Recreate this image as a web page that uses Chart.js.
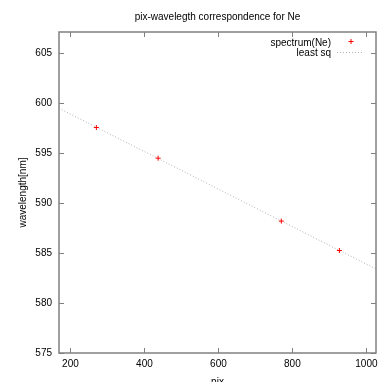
<!DOCTYPE html>
<html>
<head>
<meta charset="utf-8">
<script src="https://cdn.jsdelivr.net/npm/chart.js@4/dist/chart.umd.min.js"></script>
<style>
  html, body { margin: 0; padding: 0; background: #fff; }
  #wrap { width: 381px; height: 382px; }
</style>
</head>
<body>
<div id="wrap"><canvas id="calib"></canvas></div>
<script>
// measured line positions (pixel) and known Ne wavelengths (nm)
const pixList = [270, 437, 770, 927];
const waveList = [597.55, 594.48, 588.19, 585.25];

// least squares line, ends at the plot edges
const fitPix = [169, 1026];
const fitWave = [599.47, 583.40];

const xTicks = [200, 400, 600, 800, 1000];
const yTicks = [575, 580, 585, 590, 595, 600, 605];

const FONT = 'Liberation Sans, Arial, Helvetica, sans-serif';

// gnuplot style: gray frame with inward ticks on all four sides + legend top right
const frameTicks = {
    id: 'frameTicks',
    afterDatasetsDraw(chart) {
        const ctx = chart.ctx;
        const a = chart.chartArea;
        const xs = chart.scales.x, ys = chart.scales.y;
        ctx.save();
        ctx.strokeStyle = '#808080';
        ctx.lineWidth = 1.5;
        ctx.strokeRect(a.left, a.top, a.right - a.left, a.bottom - a.top);
        ctx.beginPath();
        xs.ticks.forEach(t => {
            const px = Math.round(xs.getPixelForValue(t.value)) + 0.5;
            ctx.moveTo(px, a.bottom); ctx.lineTo(px, a.bottom - 5);
            ctx.moveTo(px, a.top); ctx.lineTo(px, a.top + 5);
        });
        ys.ticks.forEach(t => {
            const py = Math.round(ys.getPixelForValue(t.value)) + 0.5;
            ctx.moveTo(a.left, py); ctx.lineTo(a.left + 5, py);
            ctx.moveTo(a.right, py); ctx.lineTo(a.right - 5, py);
        });
        ctx.lineWidth = 1;
        ctx.stroke();

        // legend
        const ds = chart.data.datasets;
        ctx.font = '10px ' + FONT;
        ctx.fillStyle = '#000';
        ctx.textAlign = 'right';
        ctx.textBaseline = 'middle';
        const tx = a.right - 45;
        ctx.fillText(ds[0].label, tx, a.top + 11);
        ctx.fillText(ds[1].label, tx, a.top + 21);
        ctx.strokeStyle = ds[0].borderColor;
        ctx.beginPath();
        ctx.moveTo(a.right - 27.5, a.top + 9.5); ctx.lineTo(a.right - 22.5, a.top + 9.5);
        ctx.moveTo(a.right - 25, a.top + 7); ctx.lineTo(a.right - 25, a.top + 12);
        ctx.stroke();
        ctx.strokeStyle = ds[1].borderColor;
        ctx.setLineDash([1, 2]);
        ctx.beginPath();
        ctx.moveTo(a.right - 39, a.top + 20.5); ctx.lineTo(a.right - 14, a.top + 20.5);
        ctx.stroke();
        ctx.restore();
    }
};

new Chart(document.getElementById('calib'), {
    type: 'scatter',
    data: {
        datasets: [{
            label: 'spectrum(Ne)',
            data: pixList.map((p, i) => ({x: p, y: waveList[i]})),
            pointStyle: 'cross',
            pointRadius: 2.5,
            pointBorderWidth: 1,
            borderColor: '#ff0000',
            backgroundColor: '#ff0000',
            order: 0
        }, {
            label: 'least sq',
            data: fitPix.map((p, i) => ({x: p, y: fitWave[i]})),
            showLine: true,
            pointRadius: 0,
            borderColor: '#aab0bb',
            borderWidth: 1,
            borderDash: [1, 2],
            order: 1
        }]
    },
    options: {
        responsive: true,
        maintainAspectRatio: false,
        animation: false,
        events: [],
        layout: { padding: { top: 0, right: 2, bottom: 0, left: 0 } },
        plugins: {
            legend: { display: false },
            tooltip: { enabled: false },
            title: {
                display: true,
                text: 'pix-wavelegth correspondence for Ne',
                fullSize: false,
                color: '#000',
                font: { family: FONT, size: 10, weight: 'normal' },
                padding: { top: 11, bottom: 9 }
            }
        },
        scales: {
            x: {
                type: 'linear',
                min: fitPix[0],
                max: fitPix[1],
                grid: { display: false, drawTicks: false },
                border: { display: false },
                afterBuildTicks: s => { s.ticks = xTicks.map(v => ({value: v})); },
                afterFit: s => { s.height = 29; s.paddingLeft = 0; s.paddingRight = 0; },
                ticks: {
                    autoSkip: false, maxRotation: 0, padding: 5,
                    callback: v => String(v),
                    color: '#000', font: { family: FONT, size: 10 }
                },
                title: {
                    display: true, text: 'pix', color: '#000',
                    font: { family: FONT, size: 10 },
                    padding: { top: 0, bottom: -6 }
                }
            },
            y: {
                type: 'linear',
                min: 575,
                max: 607.1,
                grid: { display: false, drawTicks: false },
                border: { display: false },
                afterBuildTicks: s => { s.ticks = yTicks.map(v => ({value: v})); },
                afterFit: s => { s.width = 59; s.paddingTop = 0; s.paddingBottom = 0; },
                ticks: {
                    padding: 7,
                    color: '#000', font: { family: FONT, size: 10 }
                },
                title: {
                    display: true, text: 'wavelength[nm]', color: '#000',
                    font: { family: FONT, size: 10 },
                    padding: { top: 17, bottom: 0 }
                }
            }
        }
    },
    plugins: [frameTicks]
});
</script>
</body>
</html>
